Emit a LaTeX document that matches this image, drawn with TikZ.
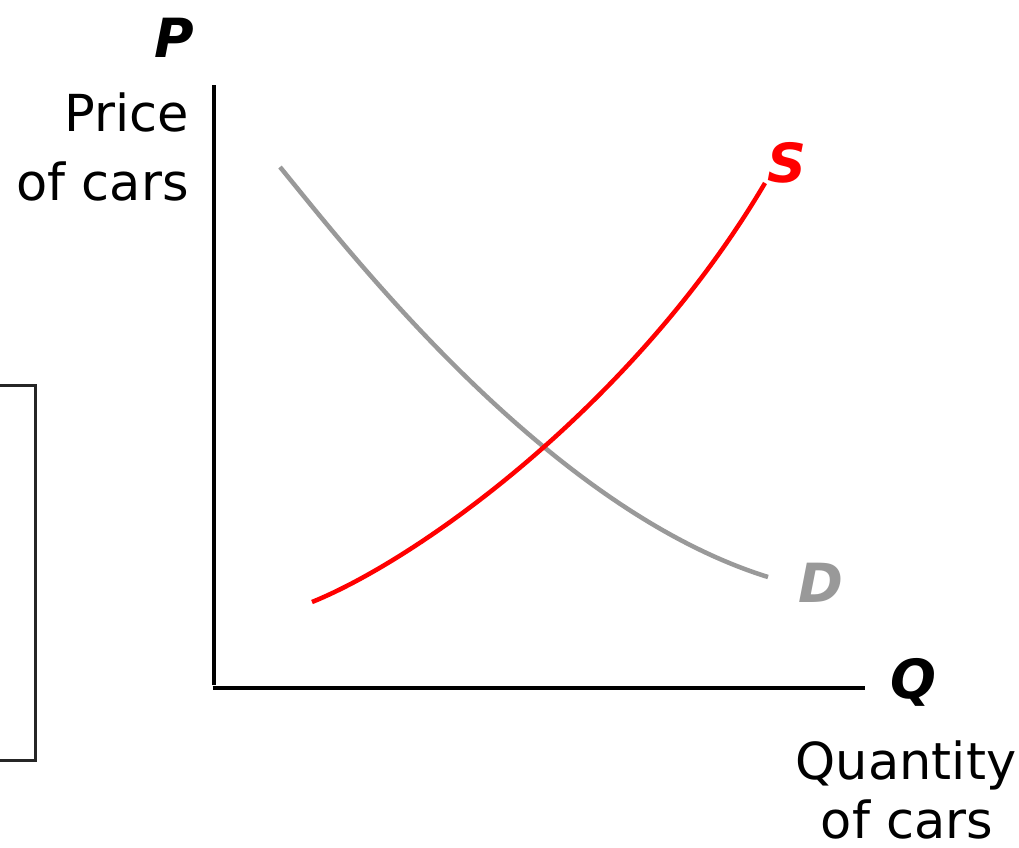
\documentclass[tikz,border=0pt]{standalone}
\usepackage{fontspec}
\setmainfont{DejaVu Sans}
\begin{document}
\begin{tikzpicture}[x=1pt,y=-1pt,
  axis/.style={line width=3.5pt,black},
  curve/.style={line width=4.5pt},
  lbl/.style={inner sep=0pt,font=\fontsize{51}{60}\selectfont},
  biglbl/.style={inner sep=0pt,font=\fontsize{54}{60}\selectfont\bfseries\itshape}]
\useasboundingbox[fill=white] (0,0) rectangle (1019,847);
% partial box at left
\draw[line width=3pt,black!85] (0,385) -- (35,385) -- (35,760) -- (0,760);
% axes
\coordinate (o) at (214,688);
\coordinate (ytop) at (214,85);
\coordinate (xend) at (865,688);
\draw[axis] (ytop) -- (214,685);
\draw[axis] (212.5,688) -- (xend);
% curves
\coordinate (d1) at (280,167);
\coordinate (d2) at (768,577);
\coordinate (s1) at (312,602);
\coordinate (s2) at (765,183);
\draw[curve,color=black!40] (d1) .. controls (352.7,255.9) and (548.3,508.5) .. (d2);
\draw[curve,color=red] (s1) .. controls (422.5,557.3) and (636.5,401.3) .. (s2);
% labels
\node[biglbl,anchor=base] (plab) at (174,57) {P};
\node[lbl,anchor=base east] (pricea) at (189,131) {Price};
\node[lbl,anchor=base east] (priceb) at (189,200) {of cars};
\node[biglbl,anchor=base,text=red] (slab) at (787,182) {S};
\node[biglbl,anchor=base,text=black!40] (dlab) at (821,602) {D};
\node[biglbl,anchor=base] (qlab) at (913,698) {Q};
\node[lbl,anchor=base] (qa) at (906,779) {Quantity};
\node[lbl,anchor=base] (qb) at (907,838) {of cars};
\end{tikzpicture}
\end{document}
